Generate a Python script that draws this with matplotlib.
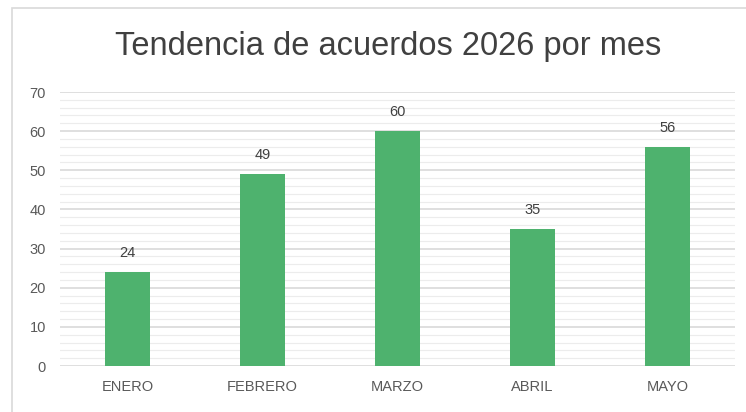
import matplotlib
matplotlib.use("Agg")
from matplotlib import pyplot as plt
from matplotlib.patches import Rectangle
from matplotlib.ticker import MultipleLocator

meses = ["ENERO", "FEBRERO", "MARZO", "ABRIL", "MAYO"]
acuerdos = [24, 49, 60, 35, 56]

plt.rcParams["font.family"] = ["Liberation Sans", "DejaVu Sans"]

fig = plt.figure(figsize=(7.46, 4.12), dpi=100)
fig.patches.append(Rectangle((12 / 746, -0.01), 1.0, 1 - 8 / 412 + 0.01,
                             transform=fig.transFigure, fill=False,
                             edgecolor="#d9d9d9", linewidth=1.2))

ax = fig.add_axes([60 / 746, 1 - 366 / 412, 675 / 746, 274 / 412])
x = range(len(meses))
bars = ax.bar(x, acuerdos, width=0.33, color="#4eb26e", zorder=3)
for b, v in zip(bars, acuerdos):
    ax.text(b.get_x() + b.get_width() / 2, v + 3, str(v), ha="center", va="bottom",
            fontsize=10.5, color="#404040")

ax.set_xlim(-0.5, len(meses) - 0.5)
ax.set_ylim(0, 70)
ax.yaxis.set_major_locator(MultipleLocator(10))
ax.yaxis.set_minor_locator(MultipleLocator(2))
ax.grid(which="major", axis="y", color="#d9d9d9", linewidth=1.2, zorder=0)
ax.grid(which="minor", axis="y", color="#ececec", linewidth=0.8, zorder=0)
ax.set_xticks(list(x))
ax.set_xticklabels(meses)
for s in ax.spines.values():
    s.set_visible(False)
ax.tick_params(axis="both", which="both", length=0, colors="#595959", labelsize=10.5)
ax.tick_params(axis="x", pad=10)
ax.tick_params(axis="y", pad=10)

fig.text(0.52, 1 - 47 / 412, "Tendencia de acuerdos 2026 por mes", ha="center", va="center",
         fontsize=23.5, color="#404040")

fig.savefig("out.png", dpi=100)
plt.close(fig)
